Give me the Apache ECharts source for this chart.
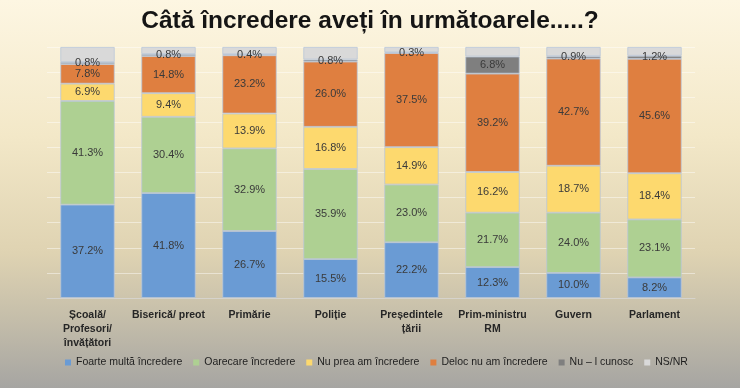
<!DOCTYPE html>
<html><head><meta charset="utf-8">
<script src="https://cdn.jsdelivr.net/npm/echarts@6/dist/echarts.min.js"></script>
<style>html,body{margin:0;padding:0;}#c{width:740px;height:388px;}</style>
</head><body><div id="c"></div>
<script>
const categories = ['Școală/\nProfesori/\nînvățători','Biserică/ preot','Primărie','Poliție','Președintele\nțării','Prim-ministru\nRM','Guvern','Parlament'];
const seriesNames = ['Foarte multă încredere','Oarecare încredere','Nu prea am încredere','Deloc nu am încredere','Nu – l cunosc','NS/NR'];
const foarteMulta = [37.2, 41.8, 26.7, 15.5, 22.2, 12.3, 10.0, 8.2];
const oarecare = [41.3, 30.4, 32.9, 35.9, 23.0, 21.7, 24.0, 23.1];
const nuPrea = [6.9, 9.4, 13.9, 16.8, 14.9, 16.2, 18.7, 18.4];
const deloc = [7.8, 14.8, 23.2, 26.0, 37.5, 39.2, 42.7, 45.6];
const nuCunosc = [0.8, 0.8, 0.4, 0.8, 0.3, 6.8, 0.9, 1.2];
const nsnr = [6.0, 2.8, 2.9, 5.0, 2.1, 3.8, 3.7, 3.5];
const colors = ['#6a9bd4','#aed092','#fdd96e','#df7f40','#7f7f7f','#d9d9d9'];
const values = [foarteMulta, oarecare, nuPrea, deloc, nuCunosc, nsnr];
const FONT = '"Liberation Sans", sans-serif';

const chart = echarts.init(document.getElementById('c'), null, {renderer:'canvas'});
chart.setOption({
  animation: false,
  backgroundColor: {type:'linear', x:0, y:0, x2:0, y2:1, colorStops:[
    {offset:0, color:'#fdf6e2'},{offset:0.35, color:'#f3e8c8'},{offset:0.65, color:'#dfd3b2'},
    {offset:0.82, color:'#c5beaa'},{offset:1, color:'#a6a5a2'}]},
  title: {text:'Câtă încredere aveți în următoarele.....?', left:'center', top:4,
    textStyle:{fontFamily:FONT, fontWeight:'bold', fontSize:24.5, color:'#151515'}},
  color: colors,
  legend: {top:357, left:65, padding:0, width:680, itemWidth:6, itemHeight:6, itemGap:11, icon:'rect',
    itemStyle:{borderWidth:0},
    textStyle:{fontFamily:FONT, fontSize:10.5, color:'#1e1e1e'}, data: seriesNames},
  grid: {left:47, right:45, top:47, bottom:90},
  xAxis: {type:'category', data:categories,
    axisLine:{lineStyle:{color:'#d6d3cc'}}, axisTick:{show:false},
    axisLabel:{fontFamily:FONT, fontWeight:'bold', fontSize:10.5, color:'#262626', lineHeight:14, margin:10, interval:0}},
  yAxis: {type:'value', min:0, max:100, interval:10, axisLabel:{show:false}, axisLine:{show:false}, axisTick:{show:false},
    splitLine:{lineStyle:{color:'rgba(255,255,255,0.45)'}}},
  series: values.map((v,i)=>({
    name: seriesNames[i], type:'bar', stack:'a', data:v, barCategoryGap:'33%',
    itemStyle:{borderColor:'#b9c6d9', borderWidth:0.8},
    label:{show: i<5, position:'inside', formatter: p=>p.value.toFixed(1)+'%',
      fontFamily:FONT, fontSize:11, color:'#3a3a3a'}
  }))
});
</script></body></html>
